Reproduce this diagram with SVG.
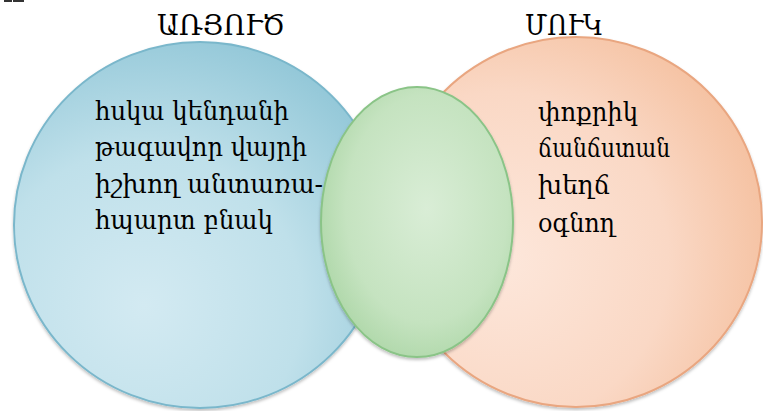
<svg xmlns="http://www.w3.org/2000/svg" width="763" height="411" viewBox="0 0 763 411">
  <style>
    .title { font-family: "DejaVu Serif", "Noto Serif", serif; font-size: 28px; fill: #000; }
    .body { font-family: "DejaVu Serif", "Noto Serif", serif; font-size: 26px; fill: #000; }
  </style>
  <defs>
    <radialGradient id="gBlue" cx="0.35" cy="0.72" r="0.85" fx="0.35" fy="0.72">
      <stop offset="0" stop-color="#d3eaf2"/>
      <stop offset="0.5" stop-color="#bfe0ea"/>
      <stop offset="1" stop-color="#89c2d4"/>
    </radialGradient>
    <radialGradient id="gOrange" cx="0.3" cy="0.6" r="0.9" fx="0.3" fy="0.6">
      <stop offset="0" stop-color="#fde7db"/>
      <stop offset="0.5" stop-color="#fad8c5"/>
      <stop offset="1" stop-color="#f2b48c"/>
    </radialGradient>
    <radialGradient id="gGreen" cx="0.55" cy="0.45" r="0.7">
      <stop offset="0" stop-color="#d9edd6"/>
      <stop offset="0.6" stop-color="#c5e3c0"/>
      <stop offset="1" stop-color="#a0d09a"/>
    </radialGradient>
    <filter id="shadow" x="-10%" y="-10%" width="120%" height="120%">
      <feDropShadow dx="0" dy="2" stdDeviation="1.5" flood-color="#000" flood-opacity="0.25"/>
    </filter>
  </defs>
  <rect width="763" height="411" fill="#ffffff"/>
  <rect x="4" y="0" width="8" height="2" fill="#333"/>
  <rect x="13" y="0" width="11" height="2" fill="#333"/>

  <g id="node-animal">
    <ellipse cx="200" cy="225" rx="186" ry="183" fill="url(#gBlue)" stroke="#7ab7cb" stroke-width="2" filter="url(#shadow)"/>
  </g>
  <g id="node-mouse">
    <ellipse cx="576" cy="222" rx="186" ry="185" fill="url(#gOrange)" stroke="#e9a680" stroke-width="2" filter="url(#shadow)"/>
  </g>
  <g id="node-common">
    <ellipse cx="417" cy="222" rx="96" ry="135" fill="url(#gGreen)" stroke="#8ac487" stroke-width="2" filter="url(#shadow)"/>
  </g>
  <g id="connectors"/>

  <g id="labels">
    <text class="title" x="157" y="35" textLength="128" lengthAdjust="spacingAndGlyphs">ԱՌՅՈՒԾ</text>
    <text class="title" x="525" y="35" textLength="78" lengthAdjust="spacingAndGlyphs">ՄՈՒԿ</text>

    <text class="body" x="95" y="120" textLength="194" lengthAdjust="spacingAndGlyphs">հսկա կենդանի</text>
    <text class="body" x="95" y="156" textLength="212" lengthAdjust="spacingAndGlyphs">թագավոր վայրի</text>
    <text class="body" x="95" y="193" textLength="228" lengthAdjust="spacingAndGlyphs">իշխող անտառա-</text>
    <text class="body" x="95" y="229" textLength="178" lengthAdjust="spacingAndGlyphs">հպարտ բնակ</text>

    <text class="body" x="538" y="121" textLength="100" lengthAdjust="spacingAndGlyphs">փոքրիկ</text>
    <text class="body" x="538" y="157" textLength="132" lengthAdjust="spacingAndGlyphs">ճանճստան</text>
    <text class="body" x="538" y="194" textLength="72" lengthAdjust="spacingAndGlyphs">խեղճ</text>
    <text class="body" x="538" y="232" textLength="77" lengthAdjust="spacingAndGlyphs">օգնող</text>
  </g>
</svg>
